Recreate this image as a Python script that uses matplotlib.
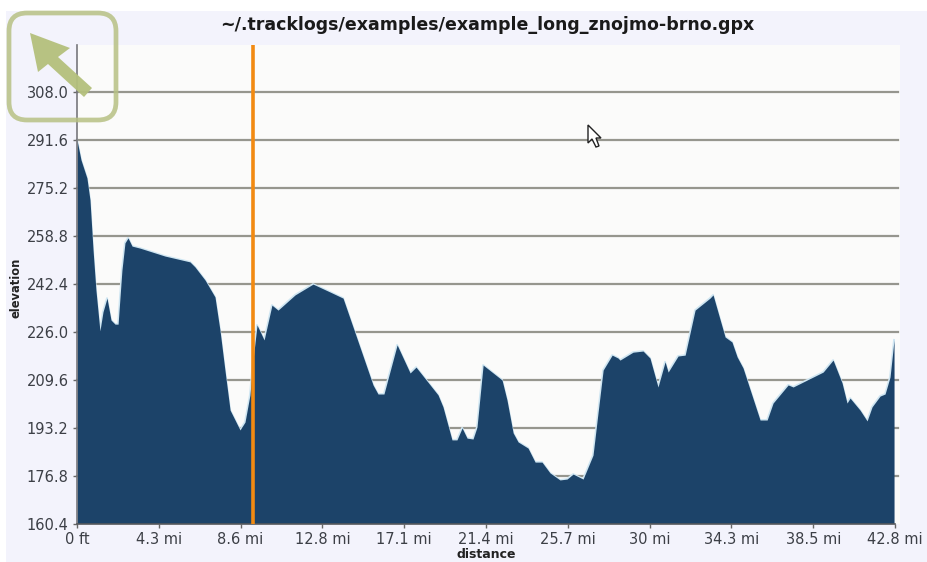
import numpy as np
import matplotlib
matplotlib.use('Agg')
import matplotlib.pyplot as plt
from matplotlib.patches import FancyBboxPatch, Polygon, Rectangle

title = '~/.tracklogs/examples/example_long_znojmo-brno.gpx'

# distance along the track (miles) and elevation
distance = [0, 0.21, 0.52, 0.68, 0.84, 0.99, 1.2, 1.36, 1.57, 1.78, 1.99, 2.15, 2.35, 2.51, 2.67,
            2.88, 3.3, 4.6, 5.91, 6.17, 6.7, 7.22, 7.48, 7.74, 8.01, 8.27, 8.53, 8.79, 9.05, 9.21,
            9.42, 9.79, 10.2, 10.52, 11.41, 12.35, 13.24, 13.92, 15.49, 15.75, 16.06, 16.75,
            17.43, 17.74, 18.89, 19.15, 19.62, 19.88, 20.15, 20.41, 20.72, 20.93, 21.25, 22.24,
            22.5, 22.82, 23.08, 23.6, 23.97, 24.33, 24.75, 25.27, 25.64, 25.96, 26.48, 27, 27.26,
            27.53, 28, 28.31, 28.41, 29.09, 29.62, 29.98, 30.4, 30.77, 30.93, 31.45, 31.82, 32.34,
            33.12, 33.28, 33.91, 34.27, 34.54, 34.85, 35.74, 36.11, 36.42, 37.21, 37.47, 39.04,
            39.56, 40.03, 40.29, 40.45, 40.97, 41.34, 41.6, 42.02, 42.28, 42.54, 42.75]
elevation = [291.6, 284.8, 278.6, 271.1, 254, 240.3, 226.3, 232.8, 237.5, 230, 228.6, 228.6, 247, 256.4, 258.1,
             255.3, 254.6, 251.9, 249.9, 248.2, 243.7, 237.9, 226.6, 212.9, 199.2, 195.8, 192.4, 195.1, 204.4, 216.3,
             228.3, 223.2, 235.1, 233.4, 238.6, 242.3, 239.6, 237.5, 207.8, 204.7, 204.7, 221.5,
             211.9, 213.9, 204.4, 200.3, 189, 189, 193.1, 189.6, 189.3, 193.4, 214.6, 209.5,
             202.6, 191.4, 188.3, 186.2, 181.4, 181.4, 177.7, 175.3, 175.6, 177.3, 175.6, 183.8, 198.2,
             212.9, 218, 217, 216.3, 219, 219.4, 217, 207.1, 215.7, 212.2, 217.7, 218, 233.4,
             237.5, 238.6, 224.2, 222.5, 217.4, 213.6, 195.8, 195.8, 201.6, 207.8, 207.1, 212.2,
             216.3, 208.5, 201.6, 203.3, 199.2, 195.5, 200.3, 204, 204.7, 210.5, 223.2]

y_ticks = [160.4, 176.8, 193.2, 209.6, 226.0, 242.4, 258.8, 275.2, 291.6, 308.0]
x_ticks = [0, 4.28, 8.56, 12.84, 17.12, 21.4, 25.68, 29.96, 34.24, 38.52, 42.8]
x_labels = ['0 ft', '4.3 mi', '8.6 mi', '12.8 mi', '17.1 mi', '21.4 mi', '25.7 mi',
            '30 mi', '34.3 mi', '38.5 mi', '42.8 mi']
marker_pos = 9.2

W, H = 928, 562
fig = plt.figure(figsize=(W / 100, H / 100), dpi=100, facecolor='white')

# screen backdrop, everything here in image pixels
bg = fig.add_axes([0, 0, 1, 1], zorder=0)
bg.set_xlim(0, W)
bg.set_ylim(H, 0)
bg.axis('off')
bg.add_patch(Rectangle((6, 11), W - 6, H - 11, fc='#f3f3fc', ec='none'))
bg.add_patch(Rectangle((77, 45), 823, 479, fc='#fbfbfa', ec='none'))

ax = fig.add_axes([77 / W, 1 - 523.5 / H, 818 / W, 478.5 / H], zorder=1)
ax.patch.set_alpha(0)
ax.set_xlim(0, 42.8)
ax.set_ylim(160.4, 324.1)

for v in y_ticks[1:]:
    ax.plot([0, 1.0037], [v, v], color='#96968e', lw=1.6, zorder=1,
            transform=ax.get_yaxis_transform(), clip_on=False)

ax.fill_between(distance, elevation, 160.4, color='#1c4369', lw=0, zorder=2)
ax.plot(distance, elevation, color='#cfe6f2', lw=1.4, zorder=1.5)
ax.axvline(marker_pos, color='#f28a12', lw=2.6, zorder=3)

for s in ['top', 'right']:
    ax.spines[s].set_visible(False)
ax.spines['left'].set_color('#77777c')
ax.spines['left'].set_linewidth(1.2)
ax.spines['bottom'].set_color('#55585c')
ax.spines['bottom'].set_linewidth(1.2)
ax.set_xticks(x_ticks)
ax.set_xticklabels(x_labels)
ax.set_yticks(y_ticks)
ax.set_yticklabels(['%.1f' % v for v in y_ticks])
ax.tick_params(length=3, width=1, color='#666666', labelcolor='#3c3f46', labelsize=10.5, pad=3)

# overlay: title, axis names, back arrow icon and mouse pointer
top = fig.add_axes([0, 0, 1, 1], zorder=2)
top.set_xlim(0, W)
top.set_ylim(H, 0)
top.axis('off')
top.text(487, 25, title, ha='center', va='center', fontsize=12.5, fontweight='bold', color='#1a1a1a')
top.text(486, 555, 'distance', ha='center', va='center', fontsize=9, fontweight='bold', color='#222222')
top.text(16, 288, 'elevation', ha='center', va='center', rotation=90, fontsize=8.3, fontweight='bold', color='#222222')

top.add_patch(FancyBboxPatch((20, 24), 85, 85, boxstyle='round,pad=11,rounding_size=18',
                             fc='none', ec='#b7c184', lw=3.4, alpha=0.85))
top.add_patch(Polygon([(30, 33), (70, 48), (58, 57), (92, 88), (84, 97), (48, 64), (38, 72)],
                      closed=True, fc='#b4c07c', ec='none', alpha=0.95))
top.add_patch(Polygon([(588, 125), (588, 143), (592, 139), (596, 147), (599, 146), (596, 138), (601, 138)],
                      closed=True, fc='white', ec='#222222', lw=1))

fig.savefig('out.png', dpi=100)
